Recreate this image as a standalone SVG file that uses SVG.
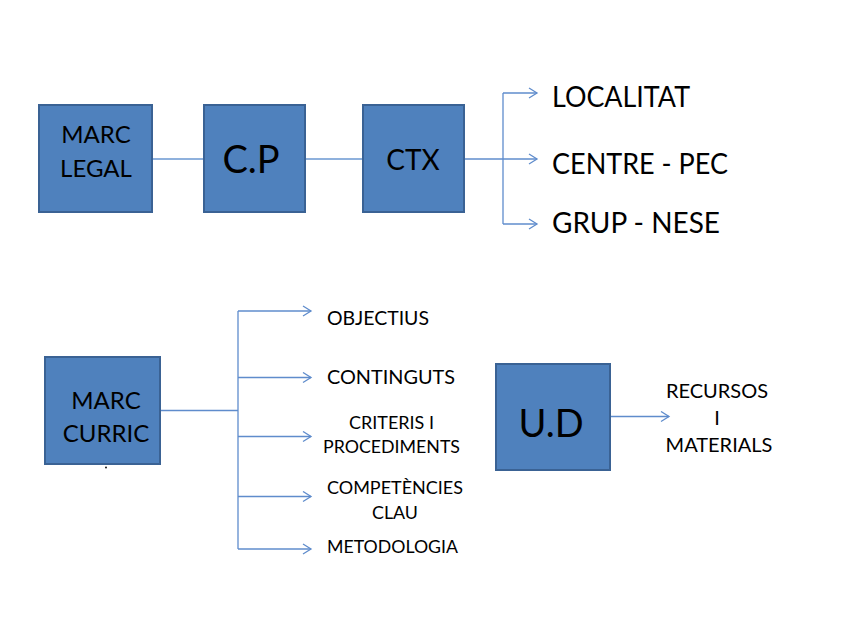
<svg xmlns="http://www.w3.org/2000/svg" width="848" height="636" viewBox="0 0 848 636">
<style>
.box{fill:#4f81bd;stroke:#3a6294;stroke-width:2}
.t{font-family:Lato,"Open Sans","Liberation Sans",sans-serif;fill:#000;text-anchor:middle}
.lbl{font-family:Lato,"Open Sans","Liberation Sans",sans-serif;fill:#000}
.link{stroke:#8fb1dd;stroke-width:2;fill:none}
.arr{stroke:#5f8ccc;stroke-width:1.3;fill:none}
</style>
<defs>
<marker id="ah" markerWidth="12" markerHeight="12" refX="9" refY="6" orient="auto" markerUnits="userSpaceOnUse">
<path d="M1,1 L9,6 L1,11" fill="none" stroke="#5f8ccc" stroke-width="1.3"/>
</marker>
</defs>
<rect width="848" height="636" fill="#fff"/>
<g id="connectors">
<line class="link" x1="152" y1="159" x2="204" y2="159"/>
<line class="link" x1="305" y1="159" x2="363" y2="159"/>
<line class="arr" x1="465" y1="159" x2="503" y2="159"/>
<line class="arr" x1="503" y1="93" x2="503" y2="224"/>
<line class="arr" x1="503" y1="93" x2="537" y2="93" marker-end="url(#ah)"/>
<line class="arr" x1="503" y1="159" x2="537" y2="159" marker-end="url(#ah)"/>
<line class="arr" x1="503" y1="224" x2="537" y2="224" marker-end="url(#ah)"/>
<line class="arr" x1="160" y1="410.5" x2="238" y2="410.5"/>
<line class="arr" x1="238" y1="311" x2="238" y2="549"/>
<line class="arr" x1="238" y1="311" x2="311" y2="311" marker-end="url(#ah)"/>
<line class="arr" x1="238" y1="377.5" x2="311" y2="377.5" marker-end="url(#ah)"/>
<line class="arr" x1="238" y1="436.5" x2="311" y2="436.5" marker-end="url(#ah)"/>
<line class="arr" x1="238" y1="496.5" x2="311" y2="496.5" marker-end="url(#ah)"/>
<line class="arr" x1="238" y1="549" x2="311" y2="549" marker-end="url(#ah)"/>
<line class="arr" x1="610" y1="416.5" x2="669" y2="416.5" marker-end="url(#ah)"/>
</g>
<g id="marc-legal">
<rect class="box" x="39" y="105" width="113" height="107"/>
<text class="t" x="96" y="143" font-size="24">MARC</text>
<text class="t" x="96" y="176.5" font-size="24">LEGAL</text>
</g>
<g id="cp">
<rect class="box" x="204" y="105" width="101" height="107"/>
<text class="t" x="251" y="172.5" font-size="38">C.P</text>
</g>
<g id="ctx">
<rect class="box" x="363" y="105" width="101" height="107"/>
<text class="t" x="413" y="170" font-size="28">CTX</text>
</g>
<g id="localitat"><text class="lbl" x="552" y="107" font-size="28" textLength="138" lengthAdjust="spacingAndGlyphs">LOCALITAT</text></g>
<g id="centre-pec"><text class="lbl" x="552" y="174" font-size="28" textLength="176" lengthAdjust="spacingAndGlyphs">CENTRE - PEC</text></g>
<g id="grup-nese"><text class="lbl" x="552" y="233" font-size="28" textLength="168" lengthAdjust="spacingAndGlyphs">GRUP - NESE</text></g>
<g id="marc-curric">
<rect class="box" x="45" y="357" width="115" height="107"/>
<text class="t" x="106" y="408.5" font-size="24">MARC</text>
<text class="t" x="106" y="441.5" font-size="24">CURRIC</text>
<circle cx="106" cy="467.5" r="0.9" fill="#000"/>
</g>
<g id="objectius"><text class="lbl" x="327" y="325" font-size="19" textLength="102" lengthAdjust="spacingAndGlyphs">OBJECTIUS</text></g>
<g id="continguts"><text class="lbl" x="327" y="384" font-size="19" textLength="128" lengthAdjust="spacingAndGlyphs">CONTINGUTS</text></g>
<g id="criteris">
<text class="lbl" x="349" y="429" font-size="17" textLength="85" lengthAdjust="spacingAndGlyphs">CRITERIS I</text>
<text class="lbl" x="323" y="453" font-size="17" textLength="137" lengthAdjust="spacingAndGlyphs">PROCEDIMENTS</text>
</g>
<g id="competencies">
<text class="lbl" x="327" y="494" font-size="17" textLength="136" lengthAdjust="spacingAndGlyphs">COMPETÈNCIES</text>
<text class="lbl" x="372" y="519" font-size="17" textLength="46" lengthAdjust="spacingAndGlyphs">CLAU</text>
</g>
<g id="metodologia"><text class="lbl" x="327" y="553" font-size="18" textLength="131" lengthAdjust="spacingAndGlyphs">METODOLOGIA</text></g>
<g id="ud">
<rect class="box" x="496" y="364" width="114" height="106"/>
<text class="t" x="551" y="437" font-size="38">U.D</text>
</g>
<g id="recursos">
<text class="t" x="717" y="398" font-size="20">RECURSOS</text>
<text class="t" x="717" y="425" font-size="20">I</text>
<text class="t" x="719" y="452" font-size="20">MATERIALS</text>
</g>
</svg>
